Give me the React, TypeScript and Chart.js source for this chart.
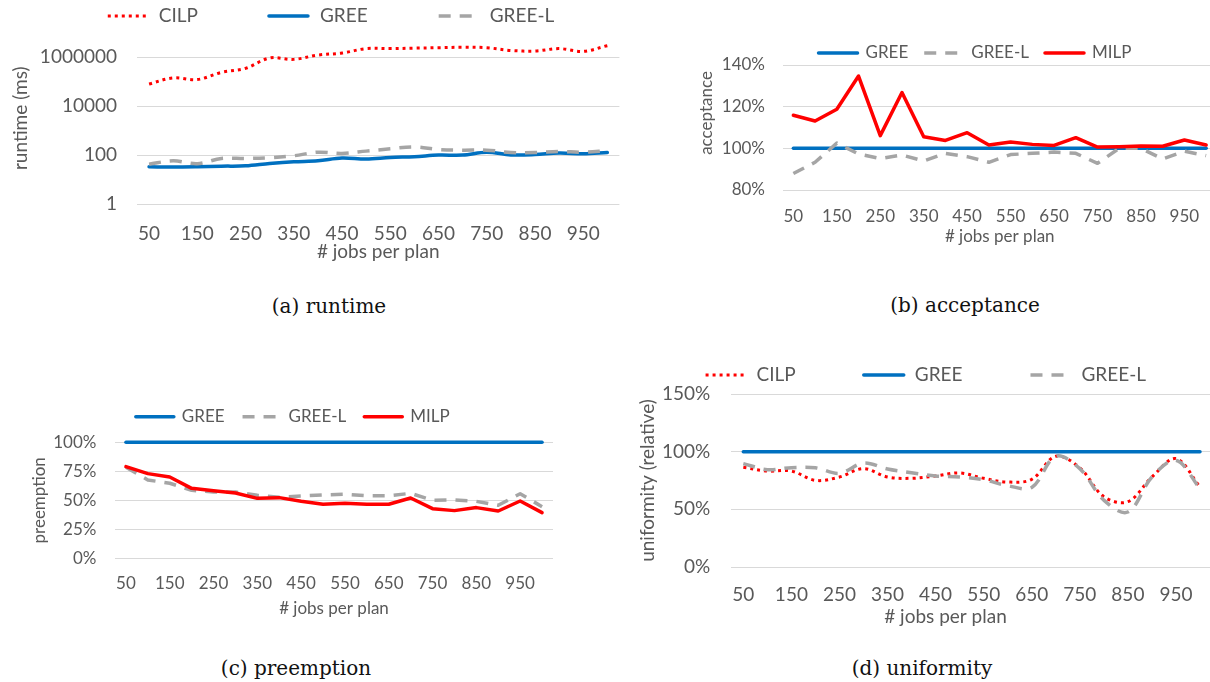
import React, { useEffect, useRef } from 'react';
import { Chart, registerables } from 'chart.js';

Chart.register(...registerables);

// ---------- data ----------
const jobsPerPlan = [50, 100, 150, 200, 250, 300, 350, 400, 450, 500, 550, 600, 650, 700, 750, 800, 850, 900, 950, 1000];

// (a) runtime (ms), logarithmic axis
const runtimeTicks = [1, 100, 10000, 1000000];
const runtimeMax = 10000000;
const runtimeCILP = [79000, 140000, 120000, 235000, 345000, 910000, 800000, 1200000, 1450000, 2200000, 2200000, 2300000, 2400000, 2500000, 2400000, 1850000, 1750000, 2200000, 1700000, 2900000];
const runtimeGREE = [33, 32, 33, 35, 36, 45, 53, 58, 75, 68, 79, 85, 99, 99, 130, 101, 104, 120, 112, 126];
const runtimeGREEL = [42, 58, 44, 72, 72, 77, 93, 130, 116, 144, 179, 215, 168, 158, 158, 127, 127, 139, 130, 152];

// (b) acceptance (%)
const acceptanceTicks = [80, 100, 120, 140];
const acceptanceGREE = [100, 100, 100, 100, 100, 100, 100, 100, 100, 100, 100, 100, 100, 100, 100, 100, 100, 100, 100, 100];
const acceptanceGREEL = [87.9, 93.3, 102.5, 97.3, 95.1, 96.8, 93.9, 97.6, 96.0, 93.3, 97.0, 97.6, 98.2, 97.6, 92.8, 100, 100, 94.9, 98.6, 96.5];
const acceptanceMILP = [115.9, 113.1, 118.8, 134.7, 106.1, 126.8, 105.6, 103.8, 107.5, 101.6, 103.0, 101.9, 101.4, 105.1, 100.6, 100.8, 101.1, 101.0, 104.0, 101.6];

// (c) preemption (%)
const preemptionTicks = [0, 25, 50, 75, 100];
const preemptionGREE = [100, 100, 100, 100, 100, 100, 100, 100, 100, 100, 100, 100, 100, 100, 100, 100, 100, 100, 100, 100];
const preemptionGREEL = [78.4, 67.5, 64.7, 58.6, 57.2, 57.2, 54.3, 52.6, 53.7, 54.6, 55.2, 54.0, 54.0, 56.0, 50.0, 50.3, 49.1, 45.7, 55.7, 44.5];
const preemptionMILP = [79.0, 73.0, 70.1, 60.3, 58.3, 56.3, 51.7, 52.3, 49.1, 46.6, 47.4, 46.6, 46.6, 52.0, 42.8, 41.1, 43.7, 40.8, 49.4, 39.4];

// (d) uniformity (relative, %)
const uniformityTicks = [0, 50, 100, 150];
const uniformityCILP = [86.4, 83.2, 83.2, 75.1, 78.0, 85.3, 78.0, 76.9, 78.9, 81.5, 76.9, 73.7, 76.0, 96.0, 86.0, 61.0, 56.6, 78.0, 94.0, 69.5];
const uniformityGREE = [100, 100, 100, 100, 100, 100, 100, 100, 100, 100, 100, 100, 100, 100, 100, 100, 100, 100, 100, 100];
const uniformityGREEL = [89.6, 84.4, 86.1, 86.0, 81.2, 90.2, 85.0, 81.8, 78.9, 78.0, 75.7, 70.5, 69.0, 96.0, 85.3, 58.0, 47.7, 78.0, 92.5, 68.0];

// ---------- styles ----------
const FONT = 'Lato, "Noto Sans", sans-serif';
const TEXT = '#595959';
const GRID = '#D9D9D9';
const RED = '#FF0000';
const BLUE = '#0070C0';
const GRAY = '#A5A5A5';

const dottedRed = { borderColor: RED, borderWidth: 3, borderDash: [3, 4], borderCapStyle: 'butt' };
const solidBlue = { borderColor: BLUE, borderWidth: 3.5, borderDash: [], borderCapStyle: 'round' };
const dashedGray = { borderColor: GRAY, borderWidth: 3.5, borderDash: [12, 9], borderCapStyle: 'butt' };
const solidRed = { borderColor: RED, borderWidth: 3.5, borderDash: [], borderCapStyle: 'round' };

// ---------- legend / free-placed axis title plugin (Excel-like) ----------
const excelLegend = {
  id: 'excelLegend',
  afterDraw(chart: any, _args: any, opts: any) {
    if (!opts || opts.cx === undefined) return;
    const ctx = chart.ctx;
    const items = chart.data.datasets;
    ctx.save();
    ctx.font = `${opts.size}px ${FONT}`;
    const widths = items.map((d: any) => opts.sample + opts.textGap + ctx.measureText(d.label).width);
    const total = widths.reduce((a: number, b: number) => a + b, 0) + opts.gap * (items.length - 1);
    let x = opts.cx - total / 2;
    items.forEach((d: any, i: number) => {
      ctx.beginPath();
      ctx.setLineDash(d.borderDash || []);
      ctx.lineCap = d.borderCapStyle || 'butt';
      ctx.lineWidth = d.borderWidth;
      ctx.strokeStyle = d.borderColor;
      ctx.moveTo(x, opts.cy);
      ctx.lineTo(x + opts.sample, opts.cy);
      ctx.stroke();
      ctx.setLineDash([]);
      ctx.fillStyle = TEXT;
      ctx.textAlign = 'left';
      ctx.textBaseline = 'middle';
      ctx.fillText(d.label, x + opts.sample + opts.textGap, opts.cy);
      x += widths[i] + opts.gap;
    });
    ctx.fillStyle = TEXT;
    ctx.textAlign = 'center';
    ctx.textBaseline = 'middle';
    if (opts.xTitleText) {
      ctx.fillText(opts.xTitleText, opts.xTitleX, opts.xTitleY);
    }
    if (opts.yTitleText) {
      ctx.save();
      ctx.translate(opts.yTitleX, opts.yTitleY);
      ctx.rotate(-Math.PI / 2);
      ctx.fillText(opts.yTitleText, 0, 0);
      ctx.restore();
    }
    ctx.restore();
  },
};

type Series = { label: string; data: number[]; style: any };
type Spec = {
  box: { x: number; y: number; w: number; h: number };
  size: number;
  series: Series[];
  tension: number;
  log: boolean;
  ticks: number[];
  yMax: number;
  percent: boolean;
  yTitle: string;
  yAxisW: number;
  xAxisH: number;
  padTop: number;
  padRight: number;
  xTickPad: number;
  yTickPad: number;
  yTitlePad: number;
  xTitlePad: number;
  customXTitle?: { x: number; y: number };
  customYTitle?: { x: number; y: number };
  legend: { cx: number; cy: number; sample: number; textGap: number; gap: number };
};

function buildConfig(s: Spec): any {
  const font = { family: FONT, size: s.size };
  const n = s.series.length;
  const xTitle = '# jobs per plan';
  return {
    type: 'line',
    data: {
      labels: jobsPerPlan.map(String),
      datasets: s.series.map((d, i) => ({
        label: d.label,
        data: d.data,
        ...d.style,
        fill: false,
        pointRadius: 0,
        pointHoverRadius: 0,
        tension: s.tension,
        borderJoinStyle: 'round',
        order: n - i,
        clip: false,
      })),
    },
    options: {
      responsive: false,
      animation: false,
      devicePixelRatio: 1,
      events: [],
      layout: { padding: { top: s.padTop, right: s.padRight, left: 0, bottom: 0 } },
      plugins: {
        legend: { display: false },
        tooltip: { enabled: false },
        excelLegend: {
          ...s.legend,
          size: s.size,
          xTitleText: s.customXTitle ? xTitle : '',
          xTitleX: s.customXTitle ? s.customXTitle.x : 0,
          xTitleY: s.customXTitle ? s.customXTitle.y : 0,
          yTitleText: s.customYTitle ? s.yTitle : '',
          yTitleX: s.customYTitle ? s.customYTitle.x : 0,
          yTitleY: s.customYTitle ? s.customYTitle.y : 0,
        },
      },
      scales: {
        x: {
          type: 'category',
          offset: true,
          grid: { display: false, drawTicks: false },
          border: { display: false },
          ticks: {
            font,
            color: TEXT,
            padding: s.xTickPad,
            autoSkip: false,
            maxRotation: 0,
            minRotation: 0,
            callback: (_v: any, i: number) => (i % 2 === 0 ? String(jobsPerPlan[i]) : ''),
          },
          title: {
            display: !s.customXTitle,
            text: xTitle,
            font,
            color: TEXT,
            padding: { top: 0, bottom: s.xTitlePad },
          },
          afterFit: (sc: any) => {
            sc.height = s.xAxisH;
          },
        },
        y: {
          type: s.log ? 'logarithmic' : 'linear',
          min: s.ticks[0],
          max: s.yMax,
          grid: { color: GRID, lineWidth: 1, drawTicks: false },
          border: { display: false },
          afterBuildTicks: (sc: any) => {
            sc.ticks = s.ticks.map((v) => ({ value: v }));
          },
          ticks: {
            font,
            color: TEXT,
            padding: s.yTickPad,
            callback: (v: any) => (s.percent ? `${v}%` : String(v)),
          },
          title: {
            display: !s.customYTitle,
            text: s.yTitle,
            font,
            color: TEXT,
            padding: { top: s.yTitlePad, bottom: 0 },
          },
          afterFit: (sc: any) => {
            sc.width = s.yAxisW;
          },
        },
      },
    },
    plugins: [excelLegend],
  };
}

const specs: Spec[] = [
  {
    box: { x: 0, y: 0, w: 660, h: 264 },
    size: 19,
    series: [
      { label: 'CILP', data: runtimeCILP, style: dottedRed },
      { label: 'GREE', data: runtimeGREE, style: solidBlue },
      { label: 'GREE-L', data: runtimeGREEL, style: dashedGray },
    ],
    tension: 0.35,
    log: true,
    ticks: runtimeTicks,
    yMax: runtimeMax,
    percent: false,
    yTitle: 'runtime (ms)',
    yAxisW: 137,
    xAxisH: 60,
    padTop: 32.5,
    padRight: 40.6,
    xTickPad: 18,
    yTickPad: 20,
    yTitlePad: 9.5,
    xTitlePad: 1,
    legend: { cx: 331, cy: 16, sample: 39, textGap: 12, gap: 71 },
  },
  {
    box: { x: 680, y: 30, w: 560, h: 218 },
    size: 17,
    series: [
      { label: 'GREE', data: acceptanceGREE, style: solidBlue },
      { label: 'GREE-L', data: acceptanceGREEL, style: dashedGray },
      { label: 'MILP', data: acceptanceMILP, style: solidRed },
    ],
    tension: 0,
    log: false,
    ticks: acceptanceTicks,
    yMax: acceptanceTicks[acceptanceTicks.length - 1],
    percent: true,
    yTitle: 'acceptance',
    yAxisW: 102.5,
    xAxisH: 58,
    padTop: 35,
    padRight: 23,
    xTickPad: 16.5,
    yTickPad: 17.5,
    yTitlePad: 16.3,
    xTitlePad: 1,
    customYTitle: { x: 26.5, y: 83 },
    legend: { cx: 295, cy: 23, sample: 39, textGap: 8, gap: 16 },
  },
  {
    box: { x: 0, y: 380, w: 590, h: 240 },
    size: 17,
    series: [
      { label: 'GREE', data: preemptionGREE, style: solidBlue },
      { label: 'GREE-L', data: preemptionGREEL, style: dashedGray },
      { label: 'MILP', data: preemptionMILP, style: solidRed },
    ],
    tension: 0,
    log: false,
    ticks: preemptionTicks,
    yMax: preemptionTicks[preemptionTicks.length - 1],
    percent: true,
    yTitle: 'preemption',
    yAxisW: 115,
    xAxisH: 61.7,
    padTop: 62.3,
    padRight: 37,
    xTickPad: 14.8,
    yTickPad: 18.6,
    yTitlePad: 29.8,
    xTitlePad: 1,
    legend: { cx: 292.8, cy: 36.7, sample: 38, textGap: 8, gap: 18 },
  },
  {
    box: { x: 620, y: 355, w: 620, h: 274 },
    size: 19,
    series: [
      { label: 'CILP', data: uniformityCILP, style: dottedRed },
      { label: 'GREE', data: uniformityGREE, style: solidBlue },
      { label: 'GREE-L', data: uniformityGREEL, style: dashedGray },
    ],
    tension: 0.35,
    log: false,
    ticks: uniformityTicks,
    yMax: uniformityTicks[uniformityTicks.length - 1],
    percent: true,
    yTitle: 'uniformity (relative)',
    yAxisW: 111.3,
    xAxisH: 62,
    padTop: 39,
    padRight: 28,
    xTickPad: 16.6,
    yTickPad: 21,
    yTitlePad: 16.6,
    xTitlePad: 1,
    customXTitle: { x: 325.5, y: 261.7 },
    legend: { cx: 305.8, cy: 20, sample: 40, textGap: 11, gap: 68 },
  },
];

const captions = [
  { text: '(a) runtime', cx: 329, cy: 306 },
  { text: '(b) acceptance', cx: 965, cy: 305 },
  { text: '(c) preemption', cx: 296, cy: 668 },
  { text: '(d) uniformity', cx: 922, cy: 668 },
];

function ExcelChart({ spec }: { spec: Spec }) {
  const ref = useRef<HTMLCanvasElement>(null);
  useEffect(() => {
    if (!ref.current) return;
    const chart = new Chart(ref.current, buildConfig(spec));
    return () => chart.destroy();
  }, [spec]);
  const { x, y, w, h } = spec.box;
  return (
    <canvas
      ref={ref}
      width={w}
      height={h}
      style={{ position: 'absolute', left: x, top: y, width: w, height: h }}
    />
  );
}

export default function App() {
  return (
    <div
      style={{
        position: 'absolute',
        left: 0,
        top: 0,
        width: 1210,
        height: 682,
        overflow: 'hidden',
        background: '#ffffff',
      }}
    >
      {specs.map((s, i) => (
        <ExcelChart key={i} spec={s} />
      ))}
      {captions.map((c, i) => (
        <div
          key={'c' + i}
          style={{
            position: 'absolute',
            left: c.cx - 200,
            top: c.cy - 13,
            width: 400,
            height: 26,
            lineHeight: '26px',
            textAlign: 'center',
            fontFamily: '"DejaVu Serif", "Liberation Serif", serif',
            fontSize: 20,
            color: '#111',
          }}
        >
          {c.text}
        </div>
      ))}
    </div>
  );
}
